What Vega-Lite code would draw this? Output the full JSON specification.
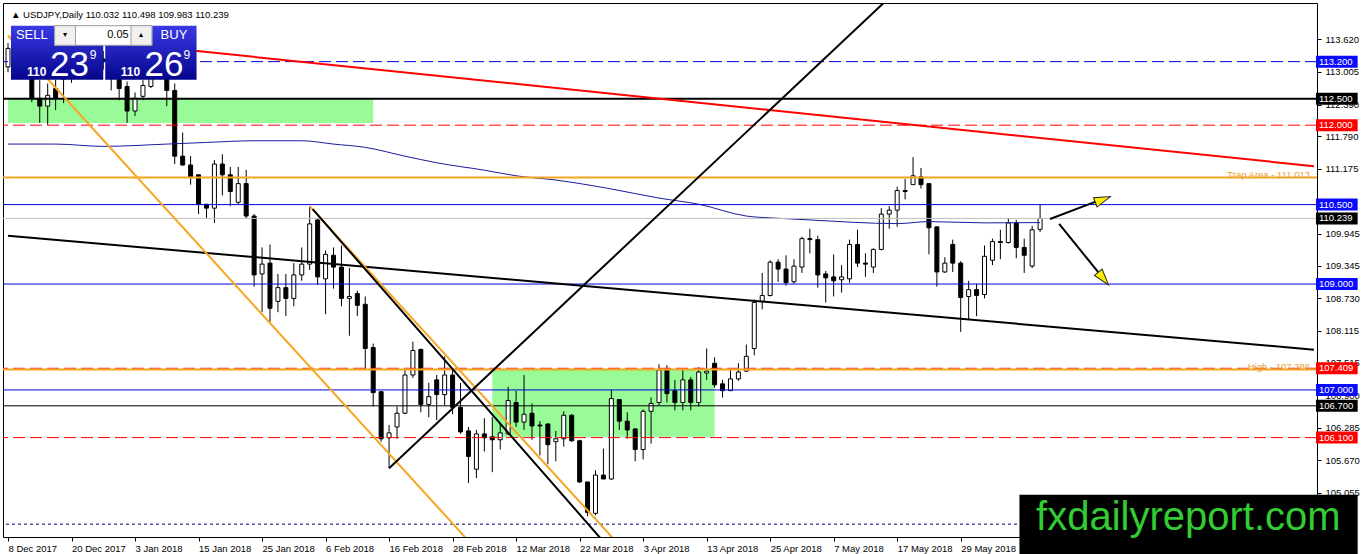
{
  "$schema": "https://vega.github.io/schema/vega-lite/v6.json",
  "width": 1314,
  "height": 534,
  "autosize": {"type": "none"},
  "padding": {"left": 3, "top": 3, "right": 45, "bottom": 17},
  "background": "white",
  "config": {
    "view": {"stroke": "black", "strokeWidth": 1},
    "font": "Liberation Sans",
    "text": {"font": "Liberation Sans"},
    "axis": {"titleOpacity": 0, "grid": false, "labelOverlap": false, "labelBound": false}
  },
  "resolve": {"scale": {"color": "independent", "strokeDash": "independent"}},
  "datasets": {
    "candles": [
      {"i":0,"o":113.10,"h":113.55,"l":113.00,"c":113.45},
      {"i":1,"o":113.45,"h":113.65,"l":113.35,"c":113.55},
      {"i":2,"o":113.55,"h":113.75,"l":113.30,"c":113.50},
      {"i":3,"o":113.50,"h":113.60,"l":112.434,"c":112.508},
      {"i":4,"o":112.508,"h":112.85,"l":112.045,"c":112.360},
      {"i":5,"o":112.360,"h":112.786,"l":112.008,"c":112.564},
      {"i":6,"o":112.693,"h":112.86,"l":112.286,"c":112.508},
      {"i":7,"o":112.87,"h":113.10,"l":112.416,"c":112.98},
      {"i":8,"o":112.88,"h":113.45,"l":112.80,"c":113.35},
      {"i":9,"o":113.35,"h":113.50,"l":113.15,"c":113.30},
      {"i":10,"o":113.30,"h":113.45,"l":113.20,"c":113.28},
      {"i":11,"o":113.28,"h":113.35,"l":113.15,"c":113.25},
      {"i":12,"o":113.25,"h":113.40,"l":113.05,"c":113.20},
      {"i":13,"o":113.20,"h":113.30,"l":112.656,"c":112.88},
      {"i":14,"o":112.88,"h":113.00,"l":112.471,"c":112.693},
      {"i":15,"o":112.730,"h":112.823,"l":112.045,"c":112.267},
      {"i":16,"o":112.267,"h":112.619,"l":112.174,"c":112.508},
      {"i":17,"o":112.545,"h":112.85,"l":112.471,"c":112.749},
      {"i":18,"o":112.730,"h":113.15,"l":112.70,"c":113.05},
      {"i":19,"o":113.05,"h":113.30,"l":112.95,"c":113.10},
      {"i":20,"o":113.10,"h":113.25,"l":112.36,"c":112.656},
      {"i":21,"o":112.656,"h":112.786,"l":111.266,"c":111.415},
      {"i":22,"o":111.415,"h":111.859,"l":111.23,"c":111.248},
      {"i":23,"o":111.248,"h":111.415,"l":110.877,"c":111.025},
      {"i":24,"o":111.063,"h":111.063,"l":110.321,"c":110.507},
      {"i":25,"o":110.507,"h":110.51,"l":110.247,"c":110.433},
      {"i":26,"o":110.433,"h":111.341,"l":110.154,"c":111.266},
      {"i":27,"o":111.266,"h":111.452,"l":110.673,"c":111.063},
      {"i":28,"o":111.063,"h":111.211,"l":110.470,"c":110.747},
      {"i":29,"o":110.544,"h":111.211,"l":110.507,"c":110.896},
      {"i":30,"o":110.896,"h":111.155,"l":110.229,"c":110.284},
      {"i":31,"o":110.284,"h":110.321,"l":108.950,"c":109.172},
      {"i":32,"o":109.191,"h":109.691,"l":108.468,"c":109.376},
      {"i":33,"o":109.395,"h":109.747,"l":108.283,"c":108.542},
      {"i":34,"o":108.672,"h":109.191,"l":108.468,"c":108.932},
      {"i":35,"o":108.932,"h":109.191,"l":108.394,"c":108.728},
      {"i":36,"o":108.728,"h":109.395,"l":108.579,"c":109.172},
      {"i":37,"o":109.172,"h":109.691,"l":109.061,"c":109.376},
      {"i":38,"o":109.376,"h":110.469,"l":109.265,"c":110.136},
      {"i":39,"o":110.210,"h":110.247,"l":108.987,"c":109.135},
      {"i":40,"o":109.098,"h":109.635,"l":108.431,"c":109.561},
      {"i":41,"o":109.543,"h":109.691,"l":108.913,"c":109.320},
      {"i":42,"o":109.320,"h":109.728,"l":108.579,"c":108.728},
      {"i":43,"o":108.728,"h":109.302,"l":108.023,"c":108.765},
      {"i":44,"o":108.820,"h":108.876,"l":108.394,"c":108.598},
      {"i":45,"o":108.617,"h":108.765,"l":107.393,"c":107.783},
      {"i":46,"o":107.801,"h":107.875,"l":106.689,"c":106.949},
      {"i":47,"o":106.967,"h":106.967,"l":106.022,"c":106.078},
      {"i":48,"o":106.096,"h":106.337,"l":105.522,"c":106.189},
      {"i":49,"o":106.300,"h":106.689,"l":106.078,"c":106.560},
      {"i":50,"o":106.560,"h":107.375,"l":106.541,"c":107.282},
      {"i":51,"o":107.282,"h":107.912,"l":107.227,"c":107.745},
      {"i":52,"o":107.764,"h":107.782,"l":106.578,"c":106.726},
      {"i":53,"o":106.726,"h":107.134,"l":106.485,"c":106.874},
      {"i":54,"o":107.190,"h":107.282,"l":106.430,"c":106.912},
      {"i":55,"o":106.912,"h":107.634,"l":106.708,"c":107.282},
      {"i":56,"o":107.282,"h":107.412,"l":106.541,"c":106.671},
      {"i":57,"o":106.671,"h":107.134,"l":106.170,"c":106.207},
      {"i":58,"o":106.226,"h":106.300,"l":105.244,"c":105.744},
      {"i":59,"o":105.503,"h":106.244,"l":105.336,"c":106.170},
      {"i":60,"o":106.170,"h":106.467,"l":105.837,"c":106.096},
      {"i":61,"o":106.115,"h":106.485,"l":105.447,"c":106.059},
      {"i":62,"o":106.059,"h":106.356,"l":105.874,"c":106.189},
      {"i":63,"o":106.170,"h":107.060,"l":106.152,"c":106.800},
      {"i":64,"o":106.763,"h":106.986,"l":106.300,"c":106.393},
      {"i":65,"o":106.393,"h":107.282,"l":106.244,"c":106.541},
      {"i":66,"o":106.560,"h":106.745,"l":106.059,"c":106.319},
      {"i":67,"o":106.337,"h":106.411,"l":105.763,"c":106.319},
      {"i":68,"o":106.356,"h":106.374,"l":105.596,"c":105.966},
      {"i":69,"o":106.022,"h":106.226,"l":105.651,"c":106.078},
      {"i":70,"o":106.078,"h":106.596,"l":105.929,"c":106.522},
      {"i":71,"o":106.522,"h":106.541,"l":106.022,"c":106.040},
      {"i":72,"o":106.040,"h":106.059,"l":105.244,"c":105.262},
      {"i":73,"o":105.262,"h":105.262,"l":104.614,"c":104.688},
      {"i":74,"o":104.670,"h":105.484,"l":104.632,"c":105.392},
      {"i":75,"o":105.392,"h":105.892,"l":105.318,"c":105.318},
      {"i":76,"o":105.318,"h":107.004,"l":105.299,"c":106.837},
      {"i":77,"o":106.819,"h":106.819,"l":106.244,"c":106.411},
      {"i":78,"o":106.411,"h":106.578,"l":106.078,"c":106.244},
      {"i":79,"o":106.263,"h":106.281,"l":105.651,"c":105.874},
      {"i":80,"o":105.874,"h":106.633,"l":105.688,"c":106.596},
      {"i":81,"o":106.596,"h":106.856,"l":105.985,"c":106.745},
      {"i":82,"o":106.763,"h":107.486,"l":106.708,"c":107.375},
      {"i":83,"o":107.375,"h":107.467,"l":106.763,"c":106.930},
      {"i":84,"o":106.986,"h":107.190,"l":106.615,"c":106.763},
      {"i":85,"o":106.763,"h":107.375,"l":106.615,"c":107.190},
      {"i":86,"o":107.190,"h":107.245,"l":106.615,"c":106.763},
      {"i":87,"o":106.763,"h":107.430,"l":106.689,"c":107.338},
      {"i":88,"o":107.319,"h":107.782,"l":107.190,"c":107.356},
      {"i":89,"o":107.504,"h":107.616,"l":107.041,"c":107.097},
      {"i":90,"o":107.115,"h":107.190,"l":106.856,"c":106.986},
      {"i":91,"o":106.986,"h":107.375,"l":106.986,"c":107.208},
      {"i":92,"o":107.208,"h":107.504,"l":107.171,"c":107.338},
      {"i":93,"o":107.356,"h":107.856,"l":107.338,"c":107.634},
      {"i":94,"o":107.783,"h":108.709,"l":107.653,"c":108.653},
      {"i":95,"o":108.672,"h":109.209,"l":108.524,"c":108.783},
      {"i":96,"o":108.783,"h":109.450,"l":108.765,"c":109.413},
      {"i":97,"o":109.413,"h":109.469,"l":109.043,"c":109.283},
      {"i":98,"o":109.283,"h":109.543,"l":108.969,"c":109.024},
      {"i":99,"o":109.043,"h":109.469,"l":109.006,"c":109.339},
      {"i":100,"o":109.320,"h":109.895,"l":109.209,"c":109.858},
      {"i":101,"o":109.858,"h":110.043,"l":109.580,"c":109.839},
      {"i":102,"o":109.839,"h":109.913,"l":108.932,"c":109.172},
      {"i":103,"o":109.191,"h":109.246,"l":108.653,"c":109.117},
      {"i":104,"o":109.135,"h":109.561,"l":108.765,"c":109.061},
      {"i":105,"o":109.080,"h":109.357,"l":108.839,"c":109.135},
      {"i":106,"o":109.098,"h":109.839,"l":109.024,"c":109.747},
      {"i":107,"o":109.747,"h":110.024,"l":109.320,"c":109.395},
      {"i":108,"o":109.395,"h":109.580,"l":109.135,"c":109.376},
      {"i":109,"o":109.320,"h":109.672,"l":109.209,"c":109.654},
      {"i":110,"o":109.654,"h":110.432,"l":109.635,"c":110.321},
      {"i":111,"o":110.321,"h":110.469,"l":110.043,"c":110.395},
      {"i":112,"o":110.395,"h":110.840,"l":110.080,"c":110.766},
      {"i":113,"o":110.766,"h":110.988,"l":110.599,"c":110.747},
      {"i":114,"o":110.877,"h":111.396,"l":110.877,"c":111.044},
      {"i":115,"o":111.025,"h":111.191,"l":110.803,"c":110.877},
      {"i":116,"o":110.896,"h":110.896,"l":109.561,"c":110.062},
      {"i":117,"o":110.080,"h":110.080,"l":108.950,"c":109.228},
      {"i":118,"o":109.228,"h":109.506,"l":109.209,"c":109.395},
      {"i":119,"o":109.747,"h":109.839,"l":109.228,"c":109.395},
      {"i":120,"o":109.395,"h":109.432,"l":108.097,"c":108.746},
      {"i":121,"o":108.765,"h":109.061,"l":108.339,"c":108.894},
      {"i":122,"o":108.894,"h":109.006,"l":108.394,"c":108.783},
      {"i":123,"o":108.802,"h":109.728,"l":108.728,"c":109.524},
      {"i":124,"o":109.450,"h":109.858,"l":109.358,"c":109.802},
      {"i":125,"o":109.802,"h":110.024,"l":109.469,"c":109.784},
      {"i":126,"o":109.784,"h":110.247,"l":109.765,"c":110.154},
      {"i":127,"o":110.154,"h":110.210,"l":109.487,"c":109.691},
      {"i":128,"o":109.691,"h":109.858,"l":109.210,"c":109.543},
      {"i":129,"o":109.339,"h":110.099,"l":109.302,"c":110.024},
      {"i":130,"o":110.032,"h":110.498,"l":109.983,"c":110.239}
    ],
    "ma": [
      {"i":0,"p":111.643},{"i":6,"p":111.643},{"i":12,"p":111.600},{"i":20,"p":111.643},
      {"i":25,"p":111.674},{"i":31,"p":111.706},{"i":37,"p":111.706},{"i":41,"p":111.643},
      {"i":45,"p":111.581},{"i":50,"p":111.415},{"i":54,"p":111.290},{"i":60,"p":111.150},
      {"i":64,"p":111.044},{"i":69,"p":110.964},{"i":75.5,"p":110.809},{"i":82,"p":110.623},
      {"i":87,"p":110.507},{"i":93,"p":110.284},{"i":97,"p":110.242},{"i":101,"p":110.210},
      {"i":112,"p":110.141},{"i":116,"p":110.179},{"i":123,"p":110.155},{"i":130,"p":110.160}
    ],
    "zones": [
      {"i1":0,"i2":46,"p1":112.50,"p2":112.04},
      {"i1":61,"i2":89,"p1":107.393,"p2":106.115}
    ],
    "levels": [
      {"p":113.2,"t":"target"},
      {"p":112.5,"t":"major"},
      {"p":112.0,"t":"stop"},
      {"p":111.013,"t":"trap"},
      {"p":110.5,"t":"pivot"},
      {"p":110.239,"t":"bid"},
      {"p":109.0,"t":"pivot"},
      {"p":107.409,"t":"stop"},
      {"p":107.386,"t":"high"},
      {"p":107.0,"t":"pivot"},
      {"p":106.7,"t":"support"},
      {"p":106.1,"t":"stop"},
      {"p":104.465,"t":"floor"}
    ],
    "tags": [
      {"p":113.2,"t":"target"},
      {"p":112.5,"t":"major"},
      {"p":112.0,"t":"stop"},
      {"p":110.5,"t":"pivot"},
      {"p":110.239,"t":"bid"},
      {"p":109.0,"t":"pivot"},
      {"p":107.409,"t":"stop"},
      {"p":107.0,"t":"pivot"},
      {"p":106.7,"t":"support"},
      {"p":106.1,"t":"stop"}
    ],
    "trend": [
      {"name":"res","i":18,"p":113.490},{"name":"res","i":164.5,"p":111.226},
      {"name":"chan","i":0,"p":109.914},{"name":"chan","i":164.5,"p":107.76},
      {"name":"orange1","i":0,"p":113.694},{"name":"orange1","i":60,"p":103.82},
      {"name":"orange2","i":38,"p":110.470},{"name":"orange2","i":80,"p":103.576},
      {"name":"tri","i":38.375,"p":110.414},{"name":"tri","i":80,"p":103.279},
      {"name":"up","i":48,"p":105.522},{"name":"up","i":112.1,"p":114.563},
      {"name":"a1","i":131.25,"p":110.229},{"name":"a1","i":137.1,"p":110.562},
      {"name":"a2","i":132.4,"p":110.136},{"name":"a2","i":137.5,"p":109.191}
    ],
    "notes": [
      {"p":111.013,"label":"Trap Area - 111.013"},
      {"p":107.386,"label":"High - 107.386"}
    ]
  },
  "layer": [
    {
      "data": {"name": "zones"},
      "mark": {"type": "rect", "color": "#98fb98"},
      "encoding": {
        "x": {"field": "i1", "type": "quantitative", "scale": {"domain": [0, 164.25], "nice": false, "zero": false},
          "axis": {"orient": "bottom", "title": null, "grid": false, "domain": false,
            "values": [0,8,16,24,32,40,48,56,64,72,80,88,96,104,112,120,128],
            "labelExpr": "['8 Dec 2017','20 Dec 2017','3 Jan 2018','15 Jan 2018','25 Jan 2018','6 Feb 2018','16 Feb 2018','28 Feb 2018','12 Mar 2018','22 Mar 2018','3 Apr 2018','13 Apr 2018','25 Apr 2018','7 May 2018','17 May 2018','29 May 2018','8 Jun 2018'][datum.value / 8]",
            "labelAlign": "left", "labelBaseline": "top", "labelFlush": false, "labelOverlap": false,
            "tickSize": 4, "tickColor": "black", "labelPadding": 2, "labelFont": "Liberation Sans", "labelFontSize": 9.5, "labelColor": "black"}},
        "x2": {"field": "i2"},
        "y": {"field": "p1", "type": "quantitative", "scale": {"domain": [104.317, 114.213], "nice": false, "zero": false},
          "axis": {"orient": "right", "title": null, "grid": false, "domain": false,
            "values": [113.62,113.005,112.39,111.79,111.175,109.945,109.345,108.73,108.115,107.515,106.9,106.285,105.67,105.055],
            "format": ".3f", "labelOverlap": false, "tickSize": 4, "tickColor": "black", "labelPadding": 4,
            "labelFont": "Liberation Sans", "labelFontSize": 9.5, "labelColor": "black", "labelBaseline": "middle"}},
        "y2": {"field": "p2"}
      }
    },
    {
      "data": {"name": "candles"},
      "layer": [
        {
          "mark": {"type": "rule", "color": "black", "strokeWidth": 1},
          "encoding": {
            "x": {"field": "i", "type": "quantitative"},
            "y": {"field": "l", "type": "quantitative"},
            "y2": {"field": "h"}
          }
        },
        {
          "mark": {"type": "bar", "width": 4, "stroke": "black", "strokeWidth": 1},
          "encoding": {
            "x": {"field": "i", "type": "quantitative"},
            "y": {"field": "o", "type": "quantitative"},
            "y2": {"field": "c"},
            "fill": {"condition": {"test": "datum.c > datum.o", "value": "white"}, "value": "black"}
          }
        }
      ]
    },
    {
      "data": {"name": "ma"},
      "mark": {"type": "line", "color": "#1a1aa0", "strokeWidth": 1, "interpolate": "monotone", "clip": true},
      "encoding": {
        "x": {"field": "i", "type": "quantitative"},
        "y": {"field": "p", "type": "quantitative"}
      }
    },
    {
      "data": {"name": "levels"},
      "mark": {"type": "rule"},
      "encoding": {
        "y": {"field": "p", "type": "quantitative"},
        "color": {"field": "t", "type": "nominal", "legend": null,
          "scale": {"domain": ["target","major","stop","trap","pivot","bid","support","high","floor"],
            "range": ["#0000e0","#000000","#ff0000","#f5a623","#0000e0","#c0c0c0","#000000","#f5a623","#000070"]}},
        "strokeDash": {"field": "t", "type": "nominal", "legend": null,
          "scale": {"domain": ["target","major","stop","trap","pivot","bid","support","high","floor"],
            "range": [[12,5],[1,0],[12,5],[1,0],[1,0],[1,0],[1,0],[1,0],[3,3]]}},
        "strokeWidth": {"condition": {"test": "indexof(['major','trap','high'], datum.t) >= 0", "value": 2}, "value": 1}
      }
    },
    {
      "data": {"name": "trend"},
      "mark": {"type": "line", "strokeWidth": 2, "clip": true},
      "encoding": {
        "x": {"field": "i", "type": "quantitative"},
        "y": {"field": "p", "type": "quantitative"},
        "color": {"field": "name", "type": "nominal", "legend": null,
          "scale": {"domain": ["res","chan","orange1","orange2","tri","up","a1","a2"],
            "range": ["#ff0000","#000000","#f5a623","#f5a623","#000000","#000000","#000000","#000000"]}}
      }
    },
    {
      "data": {"values": [{"i": 137.8, "p": 110.59}]},
      "mark": {"type": "point", "shape": "M0,-1L0.55,0.8L-0.55,0.8Z", "size": 324, "angle": 69, "filled": true, "fill": "#ffee00", "stroke": "#222222", "strokeWidth": 1, "opacity": 1},
      "encoding": {
        "x": {"field": "i", "type": "quantitative"},
        "y": {"field": "p", "type": "quantitative"}
      }
    },
    {
      "data": {"values": [{"i": 137.9, "p": 109.117}]},
      "mark": {"type": "point", "shape": "M0,-1L0.55,0.8L-0.55,0.8Z", "size": 324, "angle": 141, "filled": true, "fill": "#ffee00", "stroke": "#222222", "strokeWidth": 1, "opacity": 1},
      "encoding": {
        "x": {"field": "i", "type": "quantitative"},
        "y": {"field": "p", "type": "quantitative"}
      }
    },
    {
      "data": {"name": "notes"},
      "mark": {"type": "text", "align": "right", "baseline": "bottom", "dy": 3, "fontSize": 9.5, "color": "#e8a030"},
      "encoding": {
        "x": {"datum": 164.0},
        "y": {"field": "p", "type": "quantitative"},
        "text": {"field": "label"}
      }
    },
    {
      "data": {"values": [{}]},
      "layer": [
        {
          "mark": {"type": "rect", "fill": {"gradient": "linear", "x1": 0, "y1": 0, "x2": 0, "y2": 1,
            "stops": [{"offset": 0, "color": "#3a3ae6"}, {"offset": 1, "color": "#05058c"}]}},
          "encoding": {"x": {"datum": 0.375}, "x2": {"datum": 12.0}, "y": {"datum": 113.879}, "y2": {"datum": 112.86}}
        },
        {
          "mark": {"type": "rect", "fill": {"gradient": "linear", "x1": 0, "y1": 0, "x2": 0, "y2": 1,
            "stops": [{"offset": 0, "color": "#3a3ae6"}, {"offset": 1, "color": "#05058c"}]}},
          "encoding": {"x": {"datum": 12.25}, "x2": {"datum": 23.75}, "y": {"datum": 113.879}, "y2": {"datum": 112.86}}
        },
        {
          "mark": {"type": "rect", "fill": "white", "stroke": "#a0a0a0", "strokeWidth": 1},
          "encoding": {"x": {"datum": 5.875}, "x2": {"datum": 18.125}, "y": {"datum": 113.879}, "y2": {"datum": 113.509}}
        },
        {
          "mark": {"type": "rect", "fill": "#f0f0f0", "stroke": "#a0a0a0", "strokeWidth": 1},
          "encoding": {"x": {"datum": 5.875}, "x2": {"datum": 8.5}, "y": {"datum": 113.879}, "y2": {"datum": 113.509}}
        },
        {
          "mark": {"type": "rect", "fill": "#f0f0f0", "stroke": "#a0a0a0", "strokeWidth": 1},
          "encoding": {"x": {"datum": 15.5}, "x2": {"datum": 18.125}, "y": {"datum": 113.879}, "y2": {"datum": 113.509}}
        },
        {
          "mark": {"type": "text", "text": "SELL", "align": "center", "baseline": "middle", "fontSize": 13, "color": "white"},
          "encoding": {"x": {"datum": 3.0}, "y": {"datum": 113.694}}
        },
        {
          "mark": {"type": "text", "text": "BUY", "align": "center", "baseline": "middle", "fontSize": 13, "color": "white"},
          "encoding": {"x": {"datum": 20.9}, "y": {"datum": 113.694}}
        },
        {
          "mark": {"type": "text", "text": "0.05", "align": "right", "baseline": "middle", "fontSize": 11, "color": "black"},
          "encoding": {"x": {"datum": 15.2}, "y": {"datum": 113.694}}
        },
        {
          "mark": {"type": "text", "text": "▾", "align": "center", "baseline": "middle", "fontSize": 8, "color": "black"},
          "encoding": {"x": {"datum": 7.2}, "y": {"datum": 113.694}}
        },
        {
          "mark": {"type": "text", "text": "▴", "align": "center", "baseline": "middle", "fontSize": 8, "color": "black"},
          "encoding": {"x": {"datum": 16.8}, "y": {"datum": 113.694}}
        },
        {
          "mark": {"type": "text", "text": "110", "align": "left", "baseline": "alphabetic", "fontSize": 12, "fontWeight": "bold", "color": "white"},
          "encoding": {"x": {"datum": 2.4}, "y": {"datum": 112.934}}
        },
        {
          "mark": {"type": "text", "text": "23", "align": "left", "baseline": "alphabetic", "fontSize": 35, "color": "white"},
          "encoding": {"x": {"datum": 5.3}, "y": {"datum": 112.934}}
        },
        {
          "mark": {"type": "text", "text": "9", "align": "left", "baseline": "alphabetic", "fontSize": 12, "color": "white"},
          "encoding": {"x": {"datum": 10.3}, "y": {"datum": 113.25}}
        },
        {
          "mark": {"type": "text", "text": "110", "align": "left", "baseline": "alphabetic", "fontSize": 12, "fontWeight": "bold", "color": "white"},
          "encoding": {"x": {"datum": 14.2}, "y": {"datum": 112.934}}
        },
        {
          "mark": {"type": "text", "text": "26", "align": "left", "baseline": "alphabetic", "fontSize": 35, "color": "white"},
          "encoding": {"x": {"datum": 17.2}, "y": {"datum": 112.934}}
        },
        {
          "mark": {"type": "text", "text": "9", "align": "left", "baseline": "alphabetic", "fontSize": 12, "color": "white"},
          "encoding": {"x": {"datum": 22.1}, "y": {"datum": 113.25}}
        },
        {
          "mark": {"type": "text", "text": "▲ USDJPY,Daily  110.032 110.498 109.983 110.239", "align": "left", "baseline": "middle", "fontSize": 9.5, "color": "black"},
          "encoding": {"x": {"datum": 0.375}, "y": {"datum": 114.083}}
        }
      ]
    },
    {
      "data": {"name": "tags"},
      "layer": [
        {
          "mark": {"type": "bar", "orient": "horizontal", "size": 12},
          "encoding": {
            "x": {"datum": 164.75},
            "x2": {"datum": 170.0},
            "y": {"field": "p", "type": "quantitative"},
            "color": {"field": "t", "type": "nominal", "legend": null,
              "scale": {"domain": ["target","major","stop","pivot","bid","support"],
                "range": ["#0a0aff","#000000","#ff0000","#0a0aff","#000000","#000000"]}}
          }
        },
        {
          "mark": {"type": "text", "align": "left", "baseline": "middle", "dx": 3, "fontSize": 9.5, "color": "white"},
          "encoding": {
            "x": {"datum": 164.75},
            "y": {"field": "p", "type": "quantitative"},
            "text": {"field": "p", "type": "quantitative", "format": ".3f"}
          }
        }
      ]
    },
    {
      "data": {"values": [{}]},
      "layer": [
        {
          "mark": {"type": "rect", "color": "black"},
          "encoding": {"x": {"datum": 127.4}, "x2": {"datum": 170.0}, "y": {"datum": 105.02}, "y2": {"datum": 103.9}}
        },
        {
          "mark": {"type": "text", "text": "fxdailyreport.com", "align": "left", "baseline": "alphabetic", "fontSize": 40, "color": "#33cc33"},
          "encoding": {"x": {"datum": 129.5}, "y": {"datum": 104.354}}
        }
      ]
    }
  ]
}
